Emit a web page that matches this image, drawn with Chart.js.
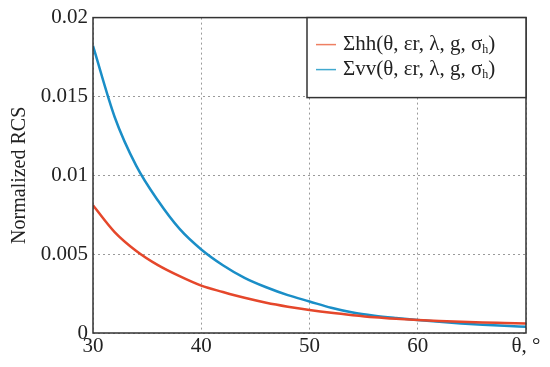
<!DOCTYPE html>
<html>
<head>
<meta charset="utf-8">
<script src="https://cdn.jsdelivr.net/npm/chart.js@4.4.1/dist/chart.umd.min.js"></script>
<style>
  html, body { margin: 0; padding: 0; background: #fff; }
  #wrap { width: 550px; height: 367px; position: relative; }
</style>
</head>
<body>
<div id="wrap"><canvas id="rcsChart"></canvas></div>
<script>
// ===== DATA =====
const angles = [30, 32, 34, 36, 38, 40, 42, 44, 46, 48, 50, 52, 54, 56, 58, 60, 62, 64, 66, 68, 70];

const hhValues = [0.0081, 0.0064, 0.0052, 0.0043, 0.0036, 0.0030, 0.0026, 0.00223, 0.00192, 0.00167,
    0.00146, 0.00128, 0.00113, 0.001, 0.0009, 0.00082, 0.00076, 0.00071, 0.00067, 0.00064, 0.00061];

const vvValues = [0.0182, 0.0137, 0.0106, 0.0084, 0.0066, 0.0053, 0.0043, 0.0035, 0.0029, 0.0024,
    0.0020, 0.0016, 0.0013, 0.0011, 0.00095, 0.00082, 0.00071, 0.00061, 0.00053, 0.00046, 0.0004];

const yTicks = [0, 0.005, 0.01, 0.015, 0.02];
const yTickLabels = ['0', '0.005', '0.01', '0.015', '0.02'];
const xTicks = [30, 40, 50, 60, 70];
const xTickLabels = ['30', '40', '50', '60', 'θ, °'];

const seriesLabels = ['Σhh(θ, εr, λ, g, σ', 'Σvv(θ, εr, λ, g, σ'];
const lineColors = ['#e5472b', '#1a8ec7'];
const legendColors = ['#ee7f62', '#41a9cf'];

const FONT = '"Liberation Serif", "DejaVu Serif", serif';

function toPoints(vals) {
    return angles.map((a, i) => ({ x: a, y: vals[i] }));
}

// box round the plot + legend inside top right
const framePlugin = {
    id: 'frame',
    afterDraw(chart) {
        const c = chart.ctx;
        const a = chart.chartArea;
        c.save();
        c.strokeStyle = '#333';
        c.lineWidth = 1.5;
        c.strokeRect(a.left, a.top, a.right - a.left, a.bottom - a.top);

        // legend box
        const bx = 307, by = a.top, bw = a.right - 307, bh = 80;
        c.fillStyle = '#fff';
        c.fillRect(bx, by, bw, bh);
        c.strokeRect(bx, by, bw, bh);

        c.textBaseline = 'middle';
        const rows = [a.top + 27, a.top + 52];
        seriesLabels.forEach((txt, i) => {
            const y = rows[i];
            c.strokeStyle = legendColors[i];
            c.lineWidth = 1.5;
            c.beginPath();
            c.moveTo(316, y);
            c.lineTo(336, y);
            c.stroke();
            c.fillStyle = '#222';
            c.font = '21px ' + FONT;
            c.fillText(txt, 343, y);
            let w = c.measureText(txt).width;
            c.font = '12px ' + FONT;
            c.fillText('h', 343 + w, y + 5);
            let w2 = c.measureText('h').width;
            c.font = '21px ' + FONT;
            c.fillText(')', 343 + w + w2, y);
        });
        c.restore();
    }
};

new Chart(document.getElementById('rcsChart'), {
    type: 'line',
    data: {
        datasets: [
            {
                label: seriesLabels[0] + 'h)',
                data: toPoints(hhValues),
                borderColor: lineColors[0],
                borderWidth: 2.5,
                pointRadius: 0,
                cubicInterpolationMode: 'monotone',
                fill: false
            },
            {
                label: seriesLabels[1] + 'h)',
                data: toPoints(vvValues),
                borderColor: lineColors[1],
                borderWidth: 2.5,
                pointRadius: 0,
                cubicInterpolationMode: 'monotone',
                fill: false
            }
        ]
    },
    options: {
        responsive: true,
        maintainAspectRatio: false,
        animation: false,
        layout: {
            padding: { left: 0, right: 24, top: 14, bottom: 0 }
        },
        plugins: {
            legend: { display: false },
            tooltip: { enabled: false }
        },
        scales: {
            x: {
                type: 'linear',
                min: 30,
                max: 70,
                afterFit(scale) { scale.height = 34; },
                afterBuildTicks(scale) { scale.ticks = xTicks.map(v => ({ value: v })); },
                ticks: {
                    color: '#222',
                    font: { family: FONT, size: 21 },
                    padding: 1,
                    maxRotation: 0,
                    callback: (v) => xTickLabels[xTicks.indexOf(v)]
                },
                grid: { color: '#9a9a9a', lineWidth: 1, drawTicks: false },
                border: { display: false, dash: [2, 3] }
            },
            y: {
                min: 0,
                max: 0.02,
                afterFit(scale) { scale.width = 93; },
                afterBuildTicks(scale) { scale.ticks = yTicks.map(v => ({ value: v })); },
                ticks: {
                    color: '#222',
                    font: { family: FONT, size: 21 },
                    padding: 5,
                    callback: (v) => yTickLabels[yTicks.indexOf(v)]
                },
                title: {
                    display: true,
                    text: 'Normalized RCS',
                    color: '#222',
                    font: { family: FONT, size: 20 },
                    padding: { top: 8, bottom: 0 }
                },
                grid: { color: '#9a9a9a', lineWidth: 1, drawTicks: false },
                border: { display: false, dash: [2, 3] }
            }
        }
    },
    plugins: [framePlugin]
});
</script>
</body>
</html>
